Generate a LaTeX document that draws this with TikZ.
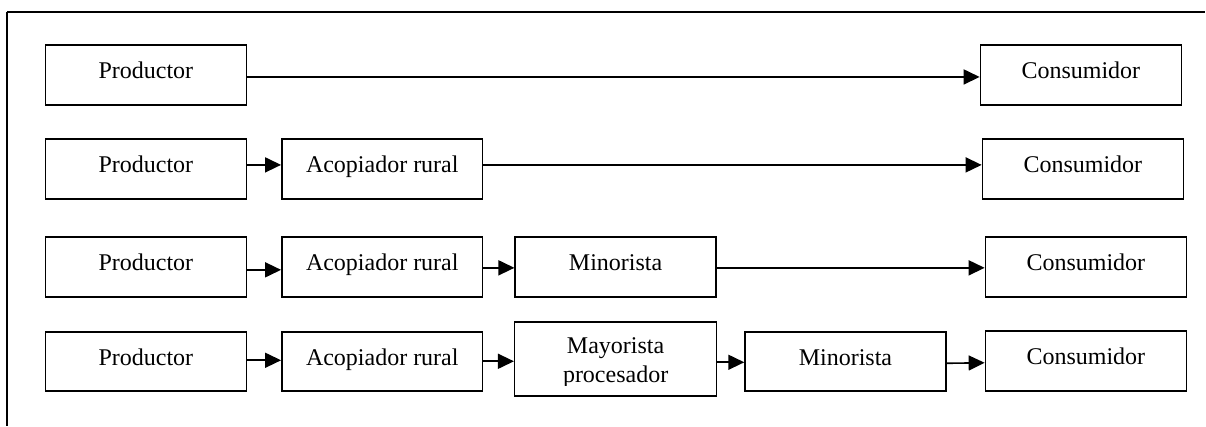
\documentclass[tikz,border=0pt]{standalone}
\usepackage{fontspec}
\setmainfont{Liberation Serif}
\usetikzlibrary{arrows.meta}
\begin{document}
\begin{tikzpicture}[x=1pt,y=-1pt,
  box/.style={draw=black,line width=1.5pt,rectangle,minimum width=201pt,minimum height=60pt,inner sep=0pt},
  txt/.style={font=\fontsize{24}{30}\selectfont,inner sep=0pt,anchor=base},
  conn/.style={line width=1.6pt,-{Triangle[length=16pt,width=15pt]}},
  frame/.style={line width=1.5pt,line cap=butt}]
\fill[white] (0,0) rectangle (1206,426);
% outer frame (partly visible)
\coordinate (fb) at (7,426);
\coordinate (ftl) at (7,12);
\coordinate (fr) at (1206,12);
\draw[frame] (fb) -- (ftl);
\draw[frame] (ftl) -- (fr);

% Row 1
\node[box] (P1) at (146,75) {};
\node[box] (C1) at (1081.5,75) {};
% Row 2
\node[box] (P2) at (146,169) {};
\node[box] (A2) at (382.5,169) {};
\node[box] (C2) at (1083.5,169) {};
% Row 3
\node[box] (P3) at (146,267) {};
\node[box] (A3) at (382.5,267) {};
\node[box] (M3) at (616,267) {};
\node[box] (C3) at (1086.5,267) {};
% Row 4
\node[box,minimum height=59pt] (P4) at (146,361.5) {};
\node[box,minimum height=59pt] (A4) at (382.5,361.5) {};
\node[box,minimum width=202pt,minimum height=74pt] (Y4) at (616,359) {};
\node[box,minimum height=59pt] (N4) at (846,361.5) {};
\node[box,minimum height=60pt] (C4) at (1086.5,361) {};

% labels
\node[txt] (tP1) at ([yshift=-34pt]P1.north) {Productor};
\node[txt] (tC1) at ([yshift=-34pt]C1.north) {Consumidor};
\node[txt] (tP2) at ([yshift=-34pt]P2.north) {Productor};
\node[txt] (tA2) at ([yshift=-34pt]A2.north) {Acopiador rural};
\node[txt] (tC2) at ([yshift=-34pt]C2.north) {Consumidor};
\node[txt] (tP3) at ([yshift=-34pt]P3.north) {Productor};
\node[txt] (tA3) at ([yshift=-34pt]A3.north) {Acopiador rural};
\node[txt] (tM3) at ([yshift=-34pt]M3.north) {Minorista};
\node[txt] (tC3) at ([yshift=-34pt]C3.north) {Consumidor};
\node[txt] (tP4) at ([yshift=-34pt]P4.north) {Productor};
\node[txt] (tA4) at ([yshift=-34pt]A4.north) {Acopiador rural};
\begin{scope}
\clip (516,323) rectangle (716,386);
\node[txt,align=center] (tY4) at ([yshift=-61pt]Y4.north) {Mayorista\\[-1pt]procesador};
\end{scope}
\node[txt] (tN4) at ([yshift=-34pt]N4.north) {Minorista};
\node[txt] (tC4) at ([yshift=-34pt]C4.north) {Consumidor};

% connectors
\draw[conn] ([yshift=-2pt]P1.east) -- ([yshift=-2pt]C1.west);
\draw[conn] ([yshift=4pt]P2.east) -- ([yshift=4pt]A2.west);
\draw[conn] ([yshift=4pt]A2.east) -- ([yshift=4pt]A2.east -| C2.west);
\draw[conn] ([yshift=-3pt]P3.east) -- ([yshift=-3pt]A3.west);
\draw[conn] ([yshift=-1pt]A3.east) -- ([yshift=-1pt]M3.west);
\draw[conn] ([yshift=-1pt]M3.east) -- ([yshift=-1pt]C3.west);
\draw[conn] ([yshift=1pt]P4.east) -- ([yshift=1pt]A4.west);
\draw[conn] (A4.east) -- (A4.east -| Y4.west);
\draw[conn] ([yshift=-1pt]N4.west -| Y4.east) -- ([yshift=-1pt]N4.west);
\draw[conn] ([yshift=-2pt]N4.east) -- ([yshift=-2pt]C4.west);
\end{tikzpicture}
\end{document}
